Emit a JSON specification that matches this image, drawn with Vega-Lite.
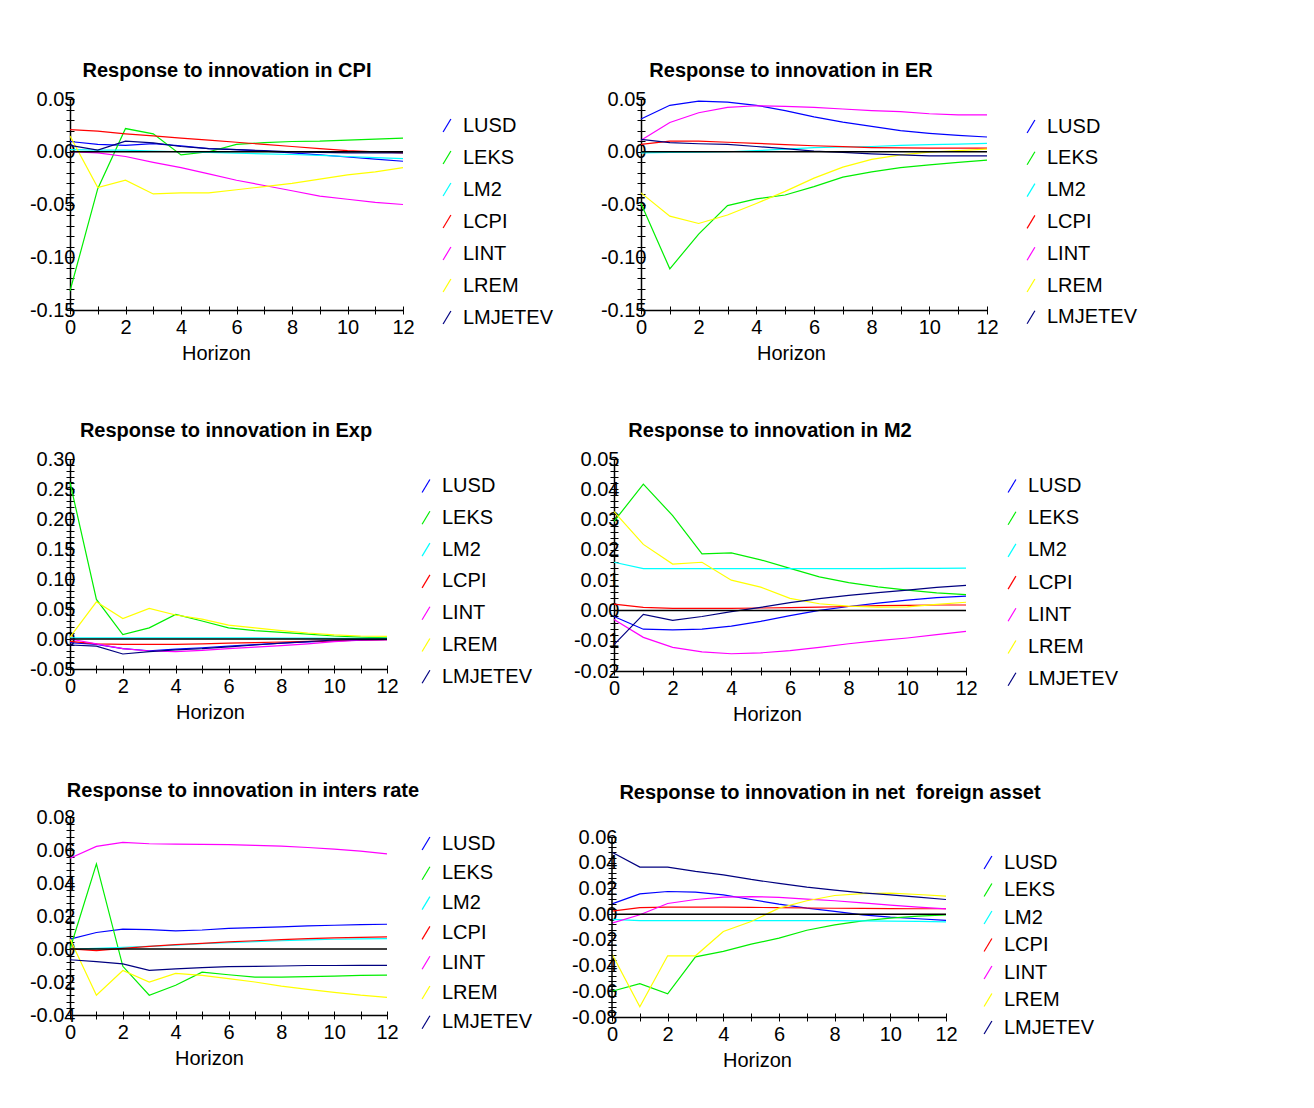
{
"$schema": "https://vega.github.io/schema/vega-lite/v6.json",
"background": "white",
"padding": {"left": 29, "top": 61, "right": 0, "bottom": 0},
"resolve": {"scale": {"color": "independent"}, "legend": {"color": "independent"}},
"config": {
 "font": "Liberation Sans",
 "view": {"stroke": null},
 "title": {"fontSize": 20, "fontWeight": "bold", "color": "black", "frame": "group", "anchor": "middle", "offset": 8},
 "axis": {"grid": false, "domainColor": "black", "tickColor": "black", "labelColor": "black", "titleColor": "black", "labelFontSize": 20, "titleFontSize": 20, "titleFontWeight": "normal", "labelFlush": false, "labelOverlap": false, "domainWidth": 1.5, "tickWidth": 1},
 "axisX": {"titleY": 43, "titleBaseline": "middle"},
 "legend": {"orient": "none", "symbolType": "M-0.6,1L0.6,-1", "symbolSize": 169, "symbolStrokeWidth": 1.2, "labelFontSize": 20, "labelColor": "black", "labelOffset": 6, "labelLimit": 0}
},
"datasets": {
 "cpi": [
  {"s":"LUSD","h":0,"v":0.0097},{"s":"LUSD","h":1,"v":0.007},{"s":"LUSD","h":2,"v":0.006},{"s":"LUSD","h":3,"v":0.0077},{"s":"LUSD","h":4,"v":0.0055},{"s":"LUSD","h":5,"v":0.003},{"s":"LUSD","h":6,"v":0.002},{"s":"LUSD","h":7,"v":0.0006},{"s":"LUSD","h":8,"v":-0.001},{"s":"LUSD","h":9,"v":-0.003},{"s":"LUSD","h":10,"v":-0.005},{"s":"LUSD","h":11,"v":-0.007},{"s":"LUSD","h":12,"v":-0.009},
  {"s":"LEKS","h":0,"v":-0.132},{"s":"LEKS","h":1,"v":-0.035},{"s":"LEKS","h":2,"v":0.022},{"s":"LEKS","h":3,"v":0.017},{"s":"LEKS","h":4,"v":-0.003},{"s":"LEKS","h":5,"v":0.0},{"s":"LEKS","h":6,"v":0.007},{"s":"LEKS","h":7,"v":0.0087},{"s":"LEKS","h":8,"v":0.0097},{"s":"LEKS","h":9,"v":0.010},{"s":"LEKS","h":10,"v":0.011},{"s":"LEKS","h":11,"v":0.012},{"s":"LEKS","h":12,"v":0.013},
  {"s":"LM2","h":0,"v":0.002},{"s":"LM2","h":1,"v":0.0016},{"s":"LM2","h":2,"v":0.0016},{"s":"LM2","h":3,"v":0.0006},{"s":"LM2","h":4,"v":0.0},{"s":"LM2","h":5,"v":-0.0006},{"s":"LM2","h":6,"v":-0.0013},{"s":"LM2","h":7,"v":-0.002},{"s":"LM2","h":8,"v":-0.0026},{"s":"LM2","h":9,"v":-0.0035},{"s":"LM2","h":10,"v":-0.0045},{"s":"LM2","h":11,"v":-0.0055},{"s":"LM2","h":12,"v":-0.0065},
  {"s":"LCPI","h":0,"v":0.021},{"s":"LCPI","h":1,"v":0.0195},{"s":"LCPI","h":2,"v":0.017},{"s":"LCPI","h":3,"v":0.015},{"s":"LCPI","h":4,"v":0.013},{"s":"LCPI","h":5,"v":0.011},{"s":"LCPI","h":6,"v":0.009},{"s":"LCPI","h":7,"v":0.007},{"s":"LCPI","h":8,"v":0.005},{"s":"LCPI","h":9,"v":0.003},{"s":"LCPI","h":10,"v":0.001},{"s":"LCPI","h":11,"v":0.0},{"s":"LCPI","h":12,"v":-0.001},
  {"s":"LINT","h":0,"v":0.0},{"s":"LINT","h":1,"v":-0.001},{"s":"LINT","h":2,"v":-0.0045},{"s":"LINT","h":3,"v":-0.010},{"s":"LINT","h":4,"v":-0.015},{"s":"LINT","h":5,"v":-0.021},{"s":"LINT","h":6,"v":-0.027},{"s":"LINT","h":7,"v":-0.032},{"s":"LINT","h":8,"v":-0.037},{"s":"LINT","h":9,"v":-0.042},{"s":"LINT","h":10,"v":-0.045},{"s":"LINT","h":11,"v":-0.048},{"s":"LINT","h":12,"v":-0.050},
  {"s":"LREM","h":0,"v":0.015},{"s":"LREM","h":1,"v":-0.034},{"s":"LREM","h":2,"v":-0.027},{"s":"LREM","h":3,"v":-0.040},{"s":"LREM","h":4,"v":-0.039},{"s":"LREM","h":5,"v":-0.039},{"s":"LREM","h":6,"v":-0.036},{"s":"LREM","h":7,"v":-0.033},{"s":"LREM","h":8,"v":-0.030},{"s":"LREM","h":9,"v":-0.026},{"s":"LREM","h":10,"v":-0.022},{"s":"LREM","h":11,"v":-0.019},{"s":"LREM","h":12,"v":-0.015},
  {"s":"LMJETEV","h":0,"v":0.006},{"s":"LMJETEV","h":1,"v":0.0016},{"s":"LMJETEV","h":2,"v":0.010},{"s":"LMJETEV","h":3,"v":0.0084},{"s":"LMJETEV","h":4,"v":0.005},{"s":"LMJETEV","h":5,"v":0.003},{"s":"LMJETEV","h":6,"v":0.002},{"s":"LMJETEV","h":7,"v":0.001},{"s":"LMJETEV","h":8,"v":0.0},{"s":"LMJETEV","h":9,"v":-0.0005},{"s":"LMJETEV","h":10,"v":-0.001},{"s":"LMJETEV","h":11,"v":-0.001},{"s":"LMJETEV","h":12,"v":-0.001}
 ],
 "er": [
  {"s":"LUSD","h":0,"v":0.031},{"s":"LUSD","h":1,"v":0.044},{"s":"LUSD","h":2,"v":0.048},{"s":"LUSD","h":3,"v":0.047},{"s":"LUSD","h":4,"v":0.044},{"s":"LUSD","h":5,"v":0.039},{"s":"LUSD","h":6,"v":0.033},{"s":"LUSD","h":7,"v":0.028},{"s":"LUSD","h":8,"v":0.024},{"s":"LUSD","h":9,"v":0.020},{"s":"LUSD","h":10,"v":0.0175},{"s":"LUSD","h":11,"v":0.0156},{"s":"LUSD","h":12,"v":0.014},
  {"s":"LEKS","h":0,"v":-0.049},{"s":"LEKS","h":1,"v":-0.111},{"s":"LEKS","h":2,"v":-0.078},{"s":"LEKS","h":3,"v":-0.051},{"s":"LEKS","h":4,"v":-0.0446},{"s":"LEKS","h":5,"v":-0.041},{"s":"LEKS","h":6,"v":-0.033},{"s":"LEKS","h":7,"v":-0.024},{"s":"LEKS","h":8,"v":-0.019},{"s":"LEKS","h":9,"v":-0.015},{"s":"LEKS","h":10,"v":-0.0124},{"s":"LEKS","h":11,"v":-0.010},{"s":"LEKS","h":12,"v":-0.008},
  {"s":"LM2","h":0,"v":-0.001},{"s":"LM2","h":1,"v":-0.0006},{"s":"LM2","h":2,"v":-0.0003},{"s":"LM2","h":3,"v":0.0},{"s":"LM2","h":4,"v":0.001},{"s":"LM2","h":5,"v":0.0025},{"s":"LM2","h":6,"v":0.004},{"s":"LM2","h":7,"v":0.0045},{"s":"LM2","h":8,"v":0.005},{"s":"LM2","h":9,"v":0.006},{"s":"LM2","h":10,"v":0.0067},{"s":"LM2","h":11,"v":0.0073},{"s":"LM2","h":12,"v":0.008},
  {"s":"LCPI","h":0,"v":0.007},{"s":"LCPI","h":1,"v":0.010},{"s":"LCPI","h":2,"v":0.010},{"s":"LCPI","h":3,"v":0.009},{"s":"LCPI","h":4,"v":0.008},{"s":"LCPI","h":5,"v":0.0067},{"s":"LCPI","h":6,"v":0.0057},{"s":"LCPI","h":7,"v":0.0048},{"s":"LCPI","h":8,"v":0.004},{"s":"LCPI","h":9,"v":0.0037},{"s":"LCPI","h":10,"v":0.0035},{"s":"LCPI","h":11,"v":0.0035},{"s":"LCPI","h":12,"v":0.0035},
  {"s":"LINT","h":0,"v":0.011},{"s":"LINT","h":1,"v":0.0277},{"s":"LINT","h":2,"v":0.037},{"s":"LINT","h":3,"v":0.042},{"s":"LINT","h":4,"v":0.0436},{"s":"LINT","h":5,"v":0.043},{"s":"LINT","h":6,"v":0.042},{"s":"LINT","h":7,"v":0.0405},{"s":"LINT","h":8,"v":0.039},{"s":"LINT","h":9,"v":0.038},{"s":"LINT","h":10,"v":0.036},{"s":"LINT","h":11,"v":0.035},{"s":"LINT","h":12,"v":0.035},
  {"s":"LREM","h":0,"v":-0.039},{"s":"LREM","h":1,"v":-0.061},{"s":"LREM","h":2,"v":-0.068},{"s":"LREM","h":3,"v":-0.060},{"s":"LREM","h":4,"v":-0.049},{"s":"LREM","h":5,"v":-0.0376},{"s":"LREM","h":6,"v":-0.025},{"s":"LREM","h":7,"v":-0.0146},{"s":"LREM","h":8,"v":-0.0073},{"s":"LREM","h":9,"v":-0.003},{"s":"LREM","h":10,"v":-0.0003},{"s":"LREM","h":11,"v":0.001},{"s":"LREM","h":12,"v":0.0025},
  {"s":"LMJETEV","h":0,"v":0.0118},{"s":"LMJETEV","h":1,"v":0.0086},{"s":"LMJETEV","h":2,"v":0.0076},{"s":"LMJETEV","h":3,"v":0.007},{"s":"LMJETEV","h":4,"v":0.005},{"s":"LMJETEV","h":5,"v":0.003},{"s":"LMJETEV","h":6,"v":0.0006},{"s":"LMJETEV","h":7,"v":-0.0006},{"s":"LMJETEV","h":8,"v":-0.002},{"s":"LMJETEV","h":9,"v":-0.003},{"s":"LMJETEV","h":10,"v":-0.004},{"s":"LMJETEV","h":11,"v":-0.004},{"s":"LMJETEV","h":12,"v":-0.004}
 ],
 "exp": [
  {"s":"LUSD","h":0,"v":-0.006},{"s":"LUSD","h":1,"v":-0.009},{"s":"LUSD","h":2,"v":-0.016},{"s":"LUSD","h":3,"v":-0.0196},{"s":"LUSD","h":4,"v":-0.017},{"s":"LUSD","h":5,"v":-0.0146},{"s":"LUSD","h":6,"v":-0.012},{"s":"LUSD","h":7,"v":-0.0095},{"s":"LUSD","h":8,"v":-0.007},{"s":"LUSD","h":9,"v":-0.005},{"s":"LUSD","h":10,"v":-0.003},{"s":"LUSD","h":11,"v":-0.0015},{"s":"LUSD","h":12,"v":-0.001},
  {"s":"LEKS","h":0,"v":0.261},{"s":"LEKS","h":1,"v":0.066},{"s":"LEKS","h":2,"v":0.0073},{"s":"LEKS","h":3,"v":0.0185},{"s":"LEKS","h":4,"v":0.041},{"s":"LEKS","h":5,"v":0.030},{"s":"LEKS","h":6,"v":0.0185},{"s":"LEKS","h":7,"v":0.014},{"s":"LEKS","h":8,"v":0.011},{"s":"LEKS","h":9,"v":0.008},{"s":"LEKS","h":10,"v":0.005},{"s":"LEKS","h":11,"v":0.003},{"s":"LEKS","h":12,"v":0.002},
  {"s":"LM2","h":0,"v":0.002},{"s":"LM2","h":1,"v":0.002},{"s":"LM2","h":2,"v":0.002},{"s":"LM2","h":3,"v":0.002},{"s":"LM2","h":4,"v":0.002},{"s":"LM2","h":5,"v":0.002},{"s":"LM2","h":6,"v":0.002},{"s":"LM2","h":7,"v":0.002},{"s":"LM2","h":8,"v":0.0015},{"s":"LM2","h":9,"v":0.0015},{"s":"LM2","h":10,"v":0.001},{"s":"LM2","h":11,"v":0.001},{"s":"LM2","h":12,"v":0.001},
  {"s":"LCPI","h":0,"v":-0.004},{"s":"LCPI","h":1,"v":-0.008},{"s":"LCPI","h":2,"v":-0.009},{"s":"LCPI","h":3,"v":-0.009},{"s":"LCPI","h":4,"v":-0.009},{"s":"LCPI","h":5,"v":-0.008},{"s":"LCPI","h":6,"v":-0.007},{"s":"LCPI","h":7,"v":-0.006},{"s":"LCPI","h":8,"v":-0.005},{"s":"LCPI","h":9,"v":-0.004},{"s":"LCPI","h":10,"v":-0.003},{"s":"LCPI","h":11,"v":-0.002},{"s":"LCPI","h":12,"v":-0.001},
  {"s":"LINT","h":0,"v":0.0},{"s":"LINT","h":1,"v":-0.008},{"s":"LINT","h":2,"v":-0.016},{"s":"LINT","h":3,"v":-0.020},{"s":"LINT","h":4,"v":-0.021},{"s":"LINT","h":5,"v":-0.019},{"s":"LINT","h":6,"v":-0.016},{"s":"LINT","h":7,"v":-0.0135},{"s":"LINT","h":8,"v":-0.011},{"s":"LINT","h":9,"v":-0.008},{"s":"LINT","h":10,"v":-0.0045},{"s":"LINT","h":11,"v":-0.002},{"s":"LINT","h":12,"v":-0.001},
  {"s":"LREM","h":0,"v":0.003},{"s":"LREM","h":1,"v":0.062},{"s":"LREM","h":2,"v":0.034},{"s":"LREM","h":3,"v":0.051},{"s":"LREM","h":4,"v":0.040},{"s":"LREM","h":5,"v":0.033},{"s":"LREM","h":6,"v":0.023},{"s":"LREM","h":7,"v":0.0185},{"s":"LREM","h":8,"v":0.014},{"s":"LREM","h":9,"v":0.010},{"s":"LREM","h":10,"v":0.007},{"s":"LREM","h":11,"v":0.005},{"s":"LREM","h":12,"v":0.0045},
  {"s":"LMJETEV","h":0,"v":-0.010},{"s":"LMJETEV","h":1,"v":-0.012},{"s":"LMJETEV","h":2,"v":-0.025},{"s":"LMJETEV","h":3,"v":-0.021},{"s":"LMJETEV","h":4,"v":-0.018},{"s":"LMJETEV","h":5,"v":-0.016},{"s":"LMJETEV","h":6,"v":-0.013},{"s":"LMJETEV","h":7,"v":-0.010},{"s":"LMJETEV","h":8,"v":-0.007},{"s":"LMJETEV","h":9,"v":-0.0045},{"s":"LMJETEV","h":10,"v":-0.0017},{"s":"LMJETEV","h":11,"v":-0.001},{"s":"LMJETEV","h":12,"v":-0.0005}
 ],
 "m2": [
  {"s":"LUSD","h":0,"v":-0.002},{"s":"LUSD","h":1,"v":-0.0062},{"s":"LUSD","h":2,"v":-0.0064},{"s":"LUSD","h":3,"v":-0.0062},{"s":"LUSD","h":4,"v":-0.0052},{"s":"LUSD","h":5,"v":-0.0036},{"s":"LUSD","h":6,"v":-0.0017},{"s":"LUSD","h":7,"v":0.0},{"s":"LUSD","h":8,"v":0.0013},{"s":"LUSD","h":9,"v":0.0024},{"s":"LUSD","h":10,"v":0.0034},{"s":"LUSD","h":11,"v":0.0042},{"s":"LUSD","h":12,"v":0.0047},
  {"s":"LEKS","h":0,"v":0.0294},{"s":"LEKS","h":1,"v":0.0417},{"s":"LEKS","h":2,"v":0.0313},{"s":"LEKS","h":3,"v":0.0187},{"s":"LEKS","h":4,"v":0.019},{"s":"LEKS","h":5,"v":0.0167},{"s":"LEKS","h":6,"v":0.0139},{"s":"LEKS","h":7,"v":0.0111},{"s":"LEKS","h":8,"v":0.0092},{"s":"LEKS","h":9,"v":0.0078},{"s":"LEKS","h":10,"v":0.0067},{"s":"LEKS","h":11,"v":0.0058},{"s":"LEKS","h":12,"v":0.0052},
  {"s":"LM2","h":0,"v":0.0159},{"s":"LM2","h":1,"v":0.0138},{"s":"LM2","h":2,"v":0.0138},{"s":"LM2","h":3,"v":0.0138},{"s":"LM2","h":4,"v":0.0138},{"s":"LM2","h":5,"v":0.0138},{"s":"LM2","h":6,"v":0.0138},{"s":"LM2","h":7,"v":0.0138},{"s":"LM2","h":8,"v":0.0138},{"s":"LM2","h":9,"v":0.0138},{"s":"LM2","h":10,"v":0.0139},{"s":"LM2","h":11,"v":0.0139},{"s":"LM2","h":12,"v":0.014},
  {"s":"LCPI","h":0,"v":0.0021},{"s":"LCPI","h":1,"v":0.001},{"s":"LCPI","h":2,"v":0.0007},{"s":"LCPI","h":3,"v":0.0007},{"s":"LCPI","h":4,"v":0.0007},{"s":"LCPI","h":5,"v":0.0008},{"s":"LCPI","h":6,"v":0.0009},{"s":"LCPI","h":7,"v":0.0011},{"s":"LCPI","h":8,"v":0.0013},{"s":"LCPI","h":9,"v":0.0016},{"s":"LCPI","h":10,"v":0.0017},{"s":"LCPI","h":11,"v":0.0018},{"s":"LCPI","h":12,"v":0.0018},
  {"s":"LINT","h":0,"v":-0.003},{"s":"LINT","h":1,"v":-0.0089},{"s":"LINT","h":2,"v":-0.0122},{"s":"LINT","h":3,"v":-0.0137},{"s":"LINT","h":4,"v":-0.0143},{"s":"LINT","h":5,"v":-0.014},{"s":"LINT","h":6,"v":-0.0133},{"s":"LINT","h":7,"v":-0.0122},{"s":"LINT","h":8,"v":-0.011},{"s":"LINT","h":9,"v":-0.010},{"s":"LINT","h":10,"v":-0.0091},{"s":"LINT","h":11,"v":-0.008},{"s":"LINT","h":12,"v":-0.0069},
  {"s":"LREM","h":0,"v":0.0326},{"s":"LREM","h":1,"v":0.0218},{"s":"LREM","h":2,"v":0.0153},{"s":"LREM","h":3,"v":0.0159},{"s":"LREM","h":4,"v":0.010},{"s":"LREM","h":5,"v":0.0077},{"s":"LREM","h":6,"v":0.004},{"s":"LREM","h":7,"v":0.0022},{"s":"LREM","h":8,"v":0.0014},{"s":"LREM","h":9,"v":0.0011},{"s":"LREM","h":10,"v":0.0012},{"s":"LREM","h":11,"v":0.002},{"s":"LREM","h":12,"v":0.0027},
  {"s":"LMJETEV","h":0,"v":-0.0113},{"s":"LMJETEV","h":1,"v":-0.0013},{"s":"LMJETEV","h":2,"v":-0.0033},{"s":"LMJETEV","h":3,"v":-0.002},{"s":"LMJETEV","h":4,"v":-0.0004},{"s":"LMJETEV","h":5,"v":0.001},{"s":"LMJETEV","h":6,"v":0.0026},{"s":"LMJETEV","h":7,"v":0.0039},{"s":"LMJETEV","h":8,"v":0.005},{"s":"LMJETEV","h":9,"v":0.0059},{"s":"LMJETEV","h":10,"v":0.0067},{"s":"LMJETEV","h":11,"v":0.0076},{"s":"LMJETEV","h":12,"v":0.0083}
 ],
 "int": [
  {"s":"LUSD","h":0,"v":0.006},{"s":"LUSD","h":1,"v":0.010},{"s":"LUSD","h":2,"v":0.012},{"s":"LUSD","h":3,"v":0.0117},{"s":"LUSD","h":4,"v":0.011},{"s":"LUSD","h":5,"v":0.0115},{"s":"LUSD","h":6,"v":0.0125},{"s":"LUSD","h":7,"v":0.013},{"s":"LUSD","h":8,"v":0.0134},{"s":"LUSD","h":9,"v":0.014},{"s":"LUSD","h":10,"v":0.0144},{"s":"LUSD","h":11,"v":0.0148},{"s":"LUSD","h":12,"v":0.015},
  {"s":"LEKS","h":0,"v":0.0},{"s":"LEKS","h":1,"v":0.0516},{"s":"LEKS","h":2,"v":-0.0105},{"s":"LEKS","h":3,"v":-0.028},{"s":"LEKS","h":4,"v":-0.022},{"s":"LEKS","h":5,"v":-0.014},{"s":"LEKS","h":6,"v":-0.0156},{"s":"LEKS","h":7,"v":-0.017},{"s":"LEKS","h":8,"v":-0.017},{"s":"LEKS","h":9,"v":-0.0168},{"s":"LEKS","h":10,"v":-0.0164},{"s":"LEKS","h":11,"v":-0.016},{"s":"LEKS","h":12,"v":-0.0158},
  {"s":"LM2","h":0,"v":0.0},{"s":"LM2","h":1,"v":0.0004},{"s":"LM2","h":2,"v":0.001},{"s":"LM2","h":3,"v":0.0016},{"s":"LM2","h":4,"v":0.0024},{"s":"LM2","h":5,"v":0.0032},{"s":"LM2","h":6,"v":0.0038},{"s":"LM2","h":7,"v":0.0045},{"s":"LM2","h":8,"v":0.005},{"s":"LM2","h":9,"v":0.0055},{"s":"LM2","h":10,"v":0.0059},{"s":"LM2","h":11,"v":0.0061},{"s":"LM2","h":12,"v":0.0063},
  {"s":"LCPI","h":0,"v":0.0},{"s":"LCPI","h":1,"v":-0.001},{"s":"LCPI","h":2,"v":0.0004},{"s":"LCPI","h":3,"v":0.0016},{"s":"LCPI","h":4,"v":0.0026},{"s":"LCPI","h":5,"v":0.0034},{"s":"LCPI","h":6,"v":0.0043},{"s":"LCPI","h":7,"v":0.005},{"s":"LCPI","h":8,"v":0.0057},{"s":"LCPI","h":9,"v":0.0063},{"s":"LCPI","h":10,"v":0.0067},{"s":"LCPI","h":11,"v":0.0071},{"s":"LCPI","h":12,"v":0.0073},
  {"s":"LINT","h":0,"v":0.055},{"s":"LINT","h":1,"v":0.0622},{"s":"LINT","h":2,"v":0.0646},{"s":"LINT","h":3,"v":0.0638},{"s":"LINT","h":4,"v":0.0636},{"s":"LINT","h":5,"v":0.0634},{"s":"LINT","h":6,"v":0.0632},{"s":"LINT","h":7,"v":0.0628},{"s":"LINT","h":8,"v":0.0623},{"s":"LINT","h":9,"v":0.0615},{"s":"LINT","h":10,"v":0.0605},{"s":"LINT","h":11,"v":0.0593},{"s":"LINT","h":12,"v":0.0577},
  {"s":"LREM","h":0,"v":0.006},{"s":"LREM","h":1,"v":-0.028},{"s":"LREM","h":2,"v":-0.013},{"s":"LREM","h":3,"v":-0.020},{"s":"LREM","h":4,"v":-0.0148},{"s":"LREM","h":5,"v":-0.016},{"s":"LREM","h":6,"v":-0.018},{"s":"LREM","h":7,"v":-0.020},{"s":"LREM","h":8,"v":-0.0225},{"s":"LREM","h":9,"v":-0.0245},{"s":"LREM","h":10,"v":-0.0263},{"s":"LREM","h":11,"v":-0.028},{"s":"LREM","h":12,"v":-0.0293},
  {"s":"LMJETEV","h":0,"v":-0.0065},{"s":"LMJETEV","h":1,"v":-0.0077},{"s":"LMJETEV","h":2,"v":-0.009},{"s":"LMJETEV","h":3,"v":-0.013},{"s":"LMJETEV","h":4,"v":-0.012},{"s":"LMJETEV","h":5,"v":-0.0113},{"s":"LMJETEV","h":6,"v":-0.0107},{"s":"LMJETEV","h":7,"v":-0.0105},{"s":"LMJETEV","h":8,"v":-0.0103},{"s":"LMJETEV","h":9,"v":-0.010},{"s":"LMJETEV","h":10,"v":-0.010},{"s":"LMJETEV","h":11,"v":-0.0099},{"s":"LMJETEV","h":12,"v":-0.0099}
 ],
 "nfa": [
  {"s":"LUSD","h":0,"v":0.008},{"s":"LUSD","h":1,"v":0.0158},{"s":"LUSD","h":2,"v":0.0176},{"s":"LUSD","h":3,"v":0.0171},{"s":"LUSD","h":4,"v":0.015},{"s":"LUSD","h":5,"v":0.0114},{"s":"LUSD","h":6,"v":0.0078},{"s":"LUSD","h":7,"v":0.0047},{"s":"LUSD","h":8,"v":0.0021},{"s":"LUSD","h":9,"v":-0.0005},{"s":"LUSD","h":10,"v":-0.0023},{"s":"LUSD","h":11,"v":-0.0036},{"s":"LUSD","h":12,"v":-0.0049},
  {"s":"LEKS","h":0,"v":-0.060},{"s":"LEKS","h":1,"v":-0.054},{"s":"LEKS","h":2,"v":-0.062},{"s":"LEKS","h":3,"v":-0.0332},{"s":"LEKS","h":4,"v":-0.029},{"s":"LEKS","h":5,"v":-0.0233},{"s":"LEKS","h":6,"v":-0.0187},{"s":"LEKS","h":7,"v":-0.0125},{"s":"LEKS","h":8,"v":-0.0083},{"s":"LEKS","h":9,"v":-0.0052},{"s":"LEKS","h":10,"v":-0.0031},{"s":"LEKS","h":11,"v":-0.0016},{"s":"LEKS","h":12,"v":-0.0005},
  {"s":"LM2","h":0,"v":-0.004},{"s":"LM2","h":1,"v":-0.005},{"s":"LM2","h":2,"v":-0.005},{"s":"LM2","h":3,"v":-0.005},{"s":"LM2","h":4,"v":-0.005},{"s":"LM2","h":5,"v":-0.005},{"s":"LM2","h":6,"v":-0.005},{"s":"LM2","h":7,"v":-0.005},{"s":"LM2","h":8,"v":-0.005},{"s":"LM2","h":9,"v":-0.0053},{"s":"LM2","h":10,"v":-0.0055},{"s":"LM2","h":11,"v":-0.0057},{"s":"LM2","h":12,"v":-0.006},
  {"s":"LCPI","h":0,"v":0.0023},{"s":"LCPI","h":1,"v":0.005},{"s":"LCPI","h":2,"v":0.0055},{"s":"LCPI","h":3,"v":0.0055},{"s":"LCPI","h":4,"v":0.0055},{"s":"LCPI","h":5,"v":0.0053},{"s":"LCPI","h":6,"v":0.005},{"s":"LCPI","h":7,"v":0.0048},{"s":"LCPI","h":8,"v":0.0046},{"s":"LCPI","h":9,"v":0.0045},{"s":"LCPI","h":10,"v":0.0043},{"s":"LCPI","h":11,"v":0.0042},{"s":"LCPI","h":12,"v":0.0042},
  {"s":"LINT","h":0,"v":-0.007},{"s":"LINT","h":1,"v":-0.0005},{"s":"LINT","h":2,"v":0.0083},{"s":"LINT","h":3,"v":0.0114},{"s":"LINT","h":4,"v":0.0132},{"s":"LINT","h":5,"v":0.0137},{"s":"LINT","h":6,"v":0.013},{"s":"LINT","h":7,"v":0.0117},{"s":"LINT","h":8,"v":0.0104},{"s":"LINT","h":9,"v":0.0088},{"s":"LINT","h":10,"v":0.007},{"s":"LINT","h":11,"v":0.0054},{"s":"LINT","h":12,"v":0.0041},
  {"s":"LREM","h":0,"v":-0.031},{"s":"LREM","h":1,"v":-0.072},{"s":"LREM","h":2,"v":-0.0324},{"s":"LREM","h":3,"v":-0.0324},{"s":"LREM","h":4,"v":-0.0135},{"s":"LREM","h":5,"v":-0.0057},{"s":"LREM","h":6,"v":0.0047},{"s":"LREM","h":7,"v":0.0104},{"s":"LREM","h":8,"v":0.0145},{"s":"LREM","h":9,"v":0.016},{"s":"LREM","h":10,"v":0.0163},{"s":"LREM","h":11,"v":0.0153},{"s":"LREM","h":12,"v":0.014},
  {"s":"LMJETEV","h":0,"v":0.0482},{"s":"LMJETEV","h":1,"v":0.0366},{"s":"LMJETEV","h":2,"v":0.0366},{"s":"LMJETEV","h":3,"v":0.0332},{"s":"LMJETEV","h":4,"v":0.0306},{"s":"LMJETEV","h":5,"v":0.027},{"s":"LMJETEV","h":6,"v":0.0239},{"s":"LMJETEV","h":7,"v":0.021},{"s":"LMJETEV","h":8,"v":0.0187},{"s":"LMJETEV","h":9,"v":0.0166},{"s":"LMJETEV","h":10,"v":0.015},{"s":"LMJETEV","h":11,"v":0.0132},{"s":"LMJETEV","h":12,"v":0.0114}
 ]
},
"spacing": 58,
"vconcat": [
 {"spacing": 46, "resolve": {"scale": {"color": "independent"}, "legend": {"color": "independent"}}, "hconcat": [
  {"width": 333, "height": 211, "title": {"text": "Response to innovation in CPI", "dx": -9.5}, "data": {"name": "cpi"},
   "resolve": {"axis": {"x": "independent", "y": "independent"}},
   "layer": [
    {"mark": {"type": "line", "strokeWidth": 1.2}, "encoding": {
      "x": {"field": "h", "type": "quantitative", "scale": {"domain": [0, 12], "nice": false}, "axis": {"orient": "bottom", "values": [0,2,4,6,8,10,12], "ticks": false, "tickSize": 0, "labelPadding": 7, "title": "Horizon", "titleX": 146}},
      "y": {"field": "v", "type": "quantitative", "scale": {"domain": [-0.15, 0.05], "nice": false, "zero": false}, "axis": {"orient": "left", "title": null, "ticks": false, "tickSize": 0, "labelPadding": -5, "values": [-0.15,-0.1,-0.05,0,0.05], "labelExpr": "(datum.value < -0.0001 ? '-' : '') + format(abs(datum.value), '.2f')"}},
      "color": {"field": "s", "type": "nominal", "scale": {"domain": ["LUSD","LEKS","LM2","LCPI","LINT","LREM","LMJETEV"], "range": ["#0000ff","#00ee00","#00ffff","#ff0000","#ff00ff","#ffff00","#000080"]}, "legend": {"title": null, "legendX": 367, "legendY": 16.5, "rowPadding": 12}}
    }},
    {"data": {"values": [{}]}, "mark": {"type": "rule", "color": "black", "strokeWidth": 1.5}, "encoding": {
      "x": {"datum": 0, "axis": {"orient": "bottom", "values": [0,1,2,3,4,5,6,7,8,9,10,11,12], "labels": false, "domain": false, "tickSize": 8, "offset": -4, "title": null}},
      "x2": {"datum": 12},
      "y": {"datum": 0, "axis": {"orient": "left", "values": [-0.15,-0.14,-0.13,-0.12,-0.11,-0.1,-0.09,-0.08,-0.07,-0.06,-0.05,-0.04,-0.03,-0.02,-0.01,0,0.01,0.02,0.03,0.04,0.05], "labels": false, "domain": false, "tickSize": 8, "offset": -4, "title": null}}}}
   ]},
  {"width": 346, "height": 211, "title": {"text": "Response to innovation in ER", "dx": -23}, "data": {"name": "er"},
   "resolve": {"axis": {"x": "independent", "y": "independent"}},
   "layer": [
    {"mark": {"type": "line", "strokeWidth": 1.2}, "encoding": {
      "x": {"field": "h", "type": "quantitative", "scale": {"domain": [0, 12], "nice": false}, "axis": {"orient": "bottom", "values": [0,2,4,6,8,10,12], "ticks": false, "tickSize": 0, "labelPadding": 7, "title": "Horizon", "titleX": 150}},
      "y": {"field": "v", "type": "quantitative", "scale": {"domain": [-0.15, 0.05], "nice": false, "zero": false}, "axis": {"orient": "left", "title": null, "ticks": false, "tickSize": 0, "labelPadding": -5, "values": [-0.15,-0.1,-0.05,0,0.05], "labelExpr": "(datum.value < -0.0001 ? '-' : '') + format(abs(datum.value), '.2f')"}},
      "color": {"field": "s", "type": "nominal", "scale": {"domain": ["LUSD","LEKS","LM2","LCPI","LINT","LREM","LMJETEV"], "range": ["#0000ff","#00ee00","#00ffff","#ff0000","#ff00ff","#ffff00","#000080"]}, "legend": {"title": null, "legendX": 380, "legendY": 17.5, "rowPadding": 11.8}}
    }},
    {"data": {"values": [{}]}, "mark": {"type": "rule", "color": "black", "strokeWidth": 1.5}, "encoding": {
      "x": {"datum": 0, "axis": {"orient": "bottom", "values": [0,1,2,3,4,5,6,7,8,9,10,11,12], "labels": false, "domain": false, "tickSize": 8, "offset": -4, "title": null}},
      "x2": {"datum": 12},
      "y": {"datum": 0, "axis": {"orient": "left", "values": [-0.15,-0.14,-0.13,-0.12,-0.11,-0.1,-0.09,-0.08,-0.07,-0.06,-0.05,-0.04,-0.03,-0.02,-0.01,0,0.01,0.02,0.03,0.04,0.05], "labels": false, "domain": false, "tickSize": 8, "offset": -4, "title": null}}}}
   ]}
 ]},
 {"spacing": 57, "vconcat": [
  {"spacing": 40, "resolve": {"scale": {"color": "independent"}, "legend": {"color": "independent"}}, "hconcat": [
   {"width": 317, "height": 210, "title": {"text": "Response to innovation in Exp", "dx": -2.5}, "data": {"name": "exp"},
    "resolve": {"axis": {"x": "independent", "y": "independent"}},
    "layer": [
     {"mark": {"type": "line", "strokeWidth": 1.2}, "encoding": {
       "x": {"field": "h", "type": "quantitative", "scale": {"domain": [0, 12], "nice": false}, "axis": {"orient": "bottom", "values": [0,2,4,6,8,10,12], "ticks": false, "tickSize": 0, "labelPadding": 7, "title": "Horizon", "titleX": 140}},
       "y": {"field": "v", "type": "quantitative", "scale": {"domain": [-0.05, 0.30], "nice": false, "zero": false}, "axis": {"orient": "left", "title": null, "ticks": false, "tickSize": 0, "labelPadding": -5, "values": [-0.05,0,0.05,0.1,0.15,0.2,0.25,0.3], "labelExpr": "(datum.value < -0.0001 ? '-' : '') + format(abs(datum.value), '.2f')"}},
       "color": {"field": "s", "type": "nominal", "scale": {"domain": ["LUSD","LEKS","LM2","LCPI","LINT","LREM","LMJETEV"], "range": ["#0000ff","#00ee00","#00ffff","#ff0000","#ff00ff","#ffff00","#000080"]}, "legend": {"title": null, "legendX": 346, "legendY": 17, "rowPadding": 11.8}}
     }},
     {"data": {"values": [{}]}, "mark": {"type": "rule", "color": "black", "strokeWidth": 1.5}, "encoding": {
       "x": {"datum": 0, "axis": {"orient": "bottom", "values": [0,1,2,3,4,5,6,7,8,9,10,11,12], "labels": false, "domain": false, "tickSize": 8, "offset": -4, "title": null}},
       "x2": {"datum": 12},
       "y": {"datum": 0, "axis": {"orient": "left", "values": [-0.05,-0.04,-0.03,-0.02,-0.01,0,0.01,0.02,0.03,0.04,0.05,0.06,0.07,0.08,0.09,0.1,0.11,0.12,0.13,0.14,0.15,0.16,0.17,0.18,0.19,0.2,0.21,0.22,0.23,0.24,0.25,0.26,0.27,0.28,0.29,0.3], "labels": false, "domain": false, "tickSize": 8, "offset": -4, "title": null}}}}
    ]},
   {"width": 352, "height": 212, "title": {"text": "Response to innovation in M2", "dx": -20}, "data": {"name": "m2"},
    "resolve": {"axis": {"x": "independent", "y": "independent"}},
    "layer": [
     {"mark": {"type": "line", "strokeWidth": 1.2}, "encoding": {
       "x": {"field": "h", "type": "quantitative", "scale": {"domain": [0, 12], "nice": false}, "axis": {"orient": "bottom", "values": [0,2,4,6,8,10,12], "ticks": false, "tickSize": 0, "labelPadding": 7, "title": "Horizon", "titleX": 153}},
       "y": {"field": "v", "type": "quantitative", "scale": {"domain": [-0.02, 0.05], "nice": false, "zero": false}, "axis": {"orient": "left", "title": null, "ticks": false, "tickSize": 0, "labelPadding": -5, "values": [-0.02,-0.01,0,0.01,0.02,0.03,0.04,0.05], "labelExpr": "(datum.value < -0.0001 ? '-' : '') + format(abs(datum.value), '.2f')"}},
       "color": {"field": "s", "type": "nominal", "scale": {"domain": ["LUSD","LEKS","LM2","LCPI","LINT","LREM","LMJETEV"], "range": ["#0000ff","#00ee00","#00ffff","#ff0000","#ff00ff","#ffff00","#000080"]}, "legend": {"title": null, "legendX": 388, "legendY": 17, "rowPadding": 12.2}}
     }},
     {"data": {"values": [{}]}, "mark": {"type": "rule", "color": "black", "strokeWidth": 1.5}, "encoding": {
       "x": {"datum": 0, "axis": {"orient": "bottom", "values": [0,1,2,3,4,5,6,7,8,9,10,11,12], "labels": false, "domain": false, "tickSize": 8, "offset": -4, "title": null}},
       "x2": {"datum": 12},
       "y": {"datum": 0, "axis": {"orient": "left", "values": [-0.02,-0.018,-0.016,-0.014,-0.012,-0.01,-0.008,-0.006,-0.004,-0.002,0,0.002,0.004,0.006,0.008,0.01,0.012,0.014,0.016,0.018,0.02,0.022,0.024,0.026,0.028,0.03,0.032,0.034,0.036,0.038,0.04,0.042,0.044,0.046,0.048,0.05], "labels": false, "domain": false, "tickSize": 8, "offset": -4, "title": null}}}}
    ]}
  ]},
  {"spacing": 38, "resolve": {"scale": {"color": "independent"}, "legend": {"color": "independent"}}, "hconcat": [
   {"width": 317, "height": 198, "title": {"text": "Response to innovation in inters rate", "dx": 14.5, "offset": 6}, "data": {"name": "int"},
    "resolve": {"axis": {"x": "independent", "y": "independent"}},
    "layer": [
     {"mark": {"type": "line", "strokeWidth": 1.2}, "encoding": {
       "x": {"field": "h", "type": "quantitative", "scale": {"domain": [0, 12], "nice": false}, "axis": {"orient": "bottom", "values": [0,2,4,6,8,10,12], "ticks": false, "tickSize": 0, "labelPadding": 7, "title": "Horizon", "titleX": 139}},
       "y": {"field": "v", "type": "quantitative", "scale": {"domain": [-0.04, 0.08], "nice": false, "zero": false}, "axis": {"orient": "left", "title": null, "ticks": false, "tickSize": 0, "labelPadding": -5, "values": [-0.04,-0.02,0,0.02,0.04,0.06,0.08], "labelExpr": "(datum.value < -0.0001 ? '-' : '') + format(abs(datum.value), '.2f')"}},
       "color": {"field": "s", "type": "nominal", "scale": {"domain": ["LUSD","LEKS","LM2","LCPI","LINT","LREM","LMJETEV"], "range": ["#0000ff","#00ee00","#00ffff","#ff0000","#ff00ff","#ffff00","#000080"]}, "legend": {"title": null, "legendX": 346, "legendY": 16.5, "rowPadding": 9.8}}
     }},
     {"data": {"values": [{}]}, "mark": {"type": "rule", "color": "black", "strokeWidth": 1.5}, "encoding": {
       "x": {"datum": 0, "axis": {"orient": "bottom", "values": [0,1,2,3,4,5,6,7,8,9,10,11,12], "labels": false, "domain": false, "tickSize": 8, "offset": -4, "title": null}},
       "x2": {"datum": 12},
       "y": {"datum": 0, "axis": {"orient": "left", "values": [-0.04,-0.036,-0.032,-0.028,-0.024,-0.02,-0.016,-0.012,-0.008,-0.004,0,0.004,0.008,0.012,0.016,0.02,0.024,0.028,0.032,0.036,0.04,0.044,0.048,0.052,0.056,0.06,0.064,0.068,0.072,0.076,0.08], "labels": false, "domain": false, "tickSize": 8, "offset": -4, "title": null}}}}
    ]},
   {"width": 334, "height": 200, "title": {"text": "Response to innovation in net\u00a0 foreign asset", "dx": 51, "offset": 14}, "data": {"name": "nfa"},
    "resolve": {"axis": {"x": "independent", "y": "independent"}},
    "layer": [
     {"mark": {"type": "line", "strokeWidth": 1.2}, "encoding": {
       "x": {"field": "h", "type": "quantitative", "scale": {"domain": [0, 12], "nice": false}, "axis": {"orient": "bottom", "values": [0,2,4,6,8,10,12], "ticks": false, "tickSize": 0, "labelPadding": 7, "title": "Horizon", "titleX": 145}},
       "y": {"field": "v", "type": "quantitative", "scale": {"domain": [-0.08, 0.07556], "nice": false, "zero": false}, "axis": {"orient": "left", "title": null, "domain": false, "ticks": false, "tickSize": 0, "labelPadding": -5, "values": [-0.08,-0.06,-0.04,-0.02,0,0.02,0.04,0.06], "labelExpr": "(datum.value < -0.0001 ? '-' : '') + format(abs(datum.value), '.2f')"}},
       "color": {"field": "s", "type": "nominal", "scale": {"domain": ["LUSD","LEKS","LM2","LCPI","LINT","LREM","LMJETEV"], "range": ["#0000ff","#00ee00","#00ffff","#ff0000","#ff00ff","#ffff00","#000080"]}, "legend": {"title": null, "legendX": 366, "legendY": 35.5, "rowPadding": 7.5}}
     }},
     {"data": {"values": [{}]}, "mark": {"type": "rule", "color": "black", "strokeWidth": 1.5}, "encoding": {
       "x": {"datum": 0, "axis": {"orient": "bottom", "values": [0,1,2,3,4,5,6,7,8,9,10,11,12], "labels": false, "domain": false, "tickSize": 8, "offset": -4, "title": null}},
       "x2": {"datum": 12},
       "y": {"datum": 0, "axis": {"orient": "left", "values": [-0.08,-0.076,-0.072,-0.068,-0.064,-0.06,-0.056,-0.052,-0.048,-0.044,-0.04,-0.036,-0.032,-0.028,-0.024,-0.02,-0.016,-0.012,-0.008,-0.004,0,0.004,0.008,0.012,0.016,0.02,0.024,0.028,0.032,0.036,0.04,0.044,0.048,0.052,0.056,0.06], "labels": false, "domain": false, "tickSize": 8, "offset": -4, "title": null}}}},
     {"data": {"values": [{}]}, "mark": {"type": "rule", "color": "black", "strokeWidth": 1.5}, "encoding": {
       "x": {"datum": 0, "axis": null},
       "y": {"datum": -0.08, "axis": null},
       "y2": {"datum": 0.06}}}
    ]}
  ]}
 ]}
]
}
